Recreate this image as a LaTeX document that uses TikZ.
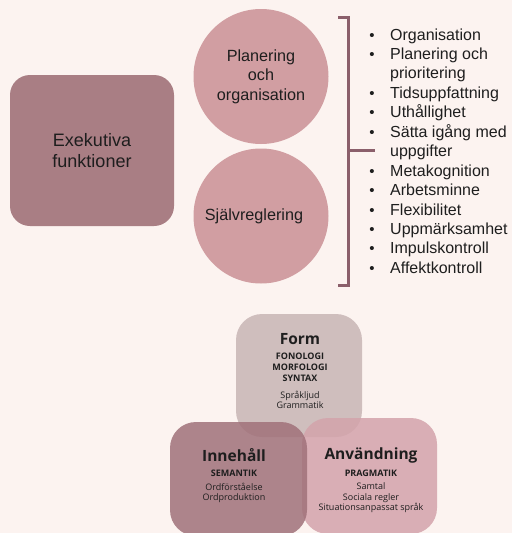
\documentclass[tikz,border=0pt]{standalone}
\usepackage{fontspec}
\setmainfont{Liberation Sans}
\newfontfamily\blobfont{Open Sans}
\usetikzlibrary{positioning}

\definecolor{bgpink}{HTML}{FCF3F0}
\definecolor{efbox}{HTML}{A97E84}
\definecolor{areacirc}{HTML}{D19EA2}
\definecolor{bracketcol}{HTML}{8B5F6B}
\definecolor{formcol}{HTML}{C8B5B5}
\definecolor{innecol}{HTML}{A0717A}
\definecolor{anvcol}{HTML}{D3A3AB}
\definecolor{ink}{HTML}{1E1E1E}

\begin{document}
\begin{tikzpicture}[x=1pt, y=-1pt, text=ink,
   ef/.style={rectangle, rounded corners=20pt, fill=efbox, minimum width=164pt, minimum height=151pt, align=center, font=\fontsize{18}{21.7}\selectfont},
   area/.style={circle, fill=areacirc, minimum size=135pt, inner sep=0pt, align=center, font=\fontsize{16.2}{19.5}\selectfont},
   listline/.style={anchor=base west, inner sep=0pt, font=\fontsize{16}{19.5}\selectfont},
   bulletmark/.style={anchor=base, inner sep=0pt, font=\fontsize{15}{19.5}\selectfont},
   bracket/.style={draw=bracketcol, line width=3pt},
   blob/.style={rectangle, rounded corners=26pt, fill opacity=0.85},
   blobtitle/.style={inner sep=0pt, font=\blobfont\bfseries\fontsize{15.5}{17}\selectfont},
   blobcaps/.style={inner sep=0pt, align=center, font=\blobfont\bfseries\fontsize{9}{11}\selectfont},
   blobtext/.style={inner sep=0pt, align=center, font=\blobfont\fontsize{9}{10.5}\selectfont}]
   \useasboundingbox (0,0) rectangle (512,533);
   \fill[bgpink] (0,0) rectangle (512,533);

   % upper part
   \node (exek) at (92,150.5) [ef] {Exekutiva\\funktioner};
   \node (plan) at (261,76.5) [area] {Planering\\och\\organisation};
   \node (sjalv) at (261,216) [area] {\hspace*{-14pt}Självreglering};

   \coordinate (brT) at (348,17);
   \coordinate (brB) at (348,285);
   \coordinate (brM) at (348,150.7);
   \draw[bracket] (338,17) -- (brT) -- (brB) -- (338,285);
   \draw[bracket] (brM) -- (375,150.7);

   \foreach \t [count=\i from 0] in {Organisation, Planering och, prioritering, Tidsuppfattning, Uthållighet, Sätta igång med, uppgifter, Metakognition, Arbetsminne, Flexibilitet, Uppmärksamhet, Impulskontroll, Affektkontroll}
      \node (ln\i) [listline] at (390, 40+19.45*\i) {\t};
   \foreach \i in {0,1,3,4,5,7,8,9,10,11,12}
      \node (bu\i) [bulletmark] at (372, 40+19.45*\i) {\textbullet};

   % lower part
   \node (form) at (299,375.5) [blob, fill=formcol, minimum width=126pt, minimum height=123pt] {};
   \node (anv) at (369.5,476) [blob, fill=anvcol, minimum width=135pt, minimum height=116pt] {};
   \node (inne) at (238.5,479) [blob, fill=innecol, minimum width=137pt, minimum height=114pt] {};

   \node (formT) at (300,339) [blobtitle] {Form};
   \node (formC) at (300,367.5) [blobcaps] {FONOLOGI\\MORFOLOGI\\SYNTAX};
   \node (formB) at (300,400) [blobtext] {Språkljud\\Grammatik};

   \node (inneT) at (234,455) [blobtitle] {Innehåll};
   \node (inneC) at (234,473) [blobcaps] {SEMANTIK};
   \node (inneB) at (234,493) [blobtext] {Ordförståelse\\Ordproduktion};

   \node (anvT) at (371,455) [blobtitle] {Användning};
   \node (anvC) at (371,473) [blobcaps] {PRAGMATIK};
   \node (anvB) at (371,498) [blobtext] {Samtal\\Sociala regler\\Situationsanpassat språk};
\end{tikzpicture}
\end{document}
